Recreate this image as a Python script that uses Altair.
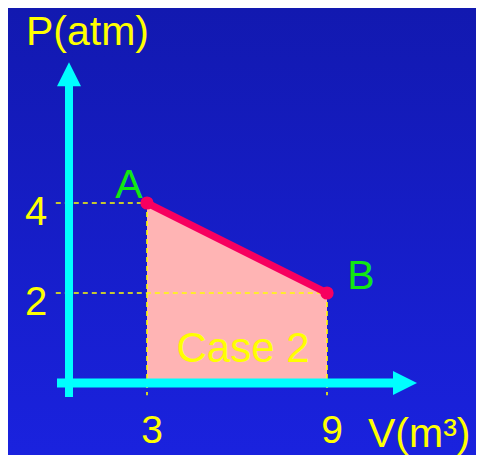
import altair as alt
import pandas as pd

# ---- data ----
state_names = ["A", "B"]
volumes = [3, 9]          # V (m^3)
pressures = [4, 2]        # P (atm)
v_tick_values = [3, 9]
p_tick_values = [4, 2]
area_label = "Case 2"
x_title = "V(m³)"
y_title = "P(atm)"

# ---- geometry of the hand-drawn axes (data units) ----
W, H = 468, 447
V_MIN, V_MAX = -49 / 30, (W - 49) / 30
P_MIN, P_MAX = (375 - H) / 45, 375 / 45
x_axis_start, x_axis_end, x_arrow_at = 0.0, 11.2, 11.6
y_axis_at = 0.4
y_axis_start, y_axis_end, y_arrow_at = -0.31, 6.6, 6.86
guide_left = -0.04
guide_bottom = -0.27

FONT = "Liberation Sans"
YELLOW = "#ffff00"
CYAN = "#00ffff"
GREEN = "#12e812"
RED = "#f7005f"
PINK = "#ffb4b4"

sx = alt.Scale(domain=[V_MIN, V_MAX], nice=False, zero=False)
sy = alt.Scale(domain=[P_MIN, P_MAX], nice=False, zero=False)


def X(f):
    return alt.X(f, type="quantitative", scale=sx, axis=None)


def Y(f):
    return alt.Y(f, type="quantitative", scale=sy, axis=None)


states = pd.DataFrame({"state": state_names, "V": volumes, "P": pressures})
states["V0"] = guide_left
states["P0"] = guide_bottom
states["Pz"] = 0
vt = pd.DataFrame({"V": v_tick_values, "label": [str(v) for v in v_tick_values]})
pt = pd.DataFrame({"P": p_tick_values, "label": [str(p) for p in p_tick_values]})
axes_h = pd.DataFrame({"V": [x_axis_start], "V2": [x_axis_end], "P": [0]})
axes_v = pd.DataFrame({"V": [y_axis_at], "P": [y_axis_start], "P2": [y_axis_end]})
arrow_x = pd.DataFrame({"V": [x_arrow_at], "P": [0]})
arrow_y = pd.DataFrame({"V": [y_axis_at], "P": [y_arrow_at]})

gradient = alt.LinearGradient(
    gradient="linear", x1=0, y1=0, x2=0, y2=1,
    stops=[alt.GradientStop(color="#1219b0", offset=0),
           alt.GradientStop(color="#1a22de", offset=1)],
)

bg = alt.Chart(pd.DataFrame({"a": [0]})).mark_rect(color=gradient).encode(
    x=alt.value(0), x2=alt.value("width"), y=alt.value(0), y2=alt.value("height")
)

area = alt.Chart(states).mark_area(color=PINK, opacity=1).encode(
    x=X("V"), y=Y("P"), y2="Pz:Q"
)

dash_h = alt.Chart(states).mark_rule(color=YELLOW, strokeWidth=1.6, strokeDash=[5, 4]).encode(
    x=X("V0"), x2="V:Q", y=Y("P")
)
dash_v = alt.Chart(states).mark_rule(color=YELLOW, strokeWidth=1.6, strokeDash=[5, 4]).encode(
    x=X("V"), y=Y("P"), y2="P0:Q"
)

ax_h = alt.Chart(axes_h).mark_rule(color=CYAN, strokeWidth=9).encode(
    x=X("V"), x2="V2:Q", y=Y("P")
)
ax_v = alt.Chart(axes_v).mark_rule(color=CYAN, strokeWidth=8).encode(
    x=X("V"), y=Y("P"), y2="P2:Q"
)
arr_x = alt.Chart(arrow_x).mark_point(
    shape="M1,0L-1,-1L-1,1Z", filled=True, color=CYAN, opacity=1, size=576
).encode(x=X("V"), y=Y("P"))
arr_y = alt.Chart(arrow_y).mark_point(
    shape="M0,-1L1,1L-1,1Z", filled=True, color=CYAN, opacity=1, size=576
).encode(x=X("V"), y=Y("P"))

line = alt.Chart(states).mark_line(color=RED, strokeWidth=7).encode(x=X("V"), y=Y("P"))
pts = alt.Chart(states).mark_circle(color=RED, opacity=1, size=175).encode(x=X("V"), y=Y("P"))

lab_a = alt.Chart(states).transform_filter(alt.datum.state == "A").mark_text(
    font=FONT, fontSize=41, color=GREEN, align="center", baseline="alphabetic", dx=-18, dy=-5
).encode(x=X("V"), y=Y("P"), text="state:N")
lab_b = alt.Chart(states).transform_filter(alt.datum.state == "B").mark_text(
    font=FONT, fontSize=41, color=GREEN, align="center", baseline="alphabetic", dx=34, dy=-4
).encode(x=X("V"), y=Y("P"), text="state:N")

v_labels = alt.Chart(vt).mark_text(
    font=FONT, fontSize=39, color=YELLOW, align="center", baseline="alphabetic", dx=5, dy=60
).encode(x=X("V"), y=alt.YDatum(0, scale=sy, axis=None), text="label:N")
p_labels = alt.Chart(pt).mark_text(
    font=FONT, fontSize=40, color=YELLOW, align="center", baseline="alphabetic", dx=-21, dy=22
).encode(x=alt.XDatum(0, scale=sx, axis=None), y=Y("P"), text="label:N")

case_lab = alt.Chart(pd.DataFrame({"t": [area_label], "V": [sum(volumes) / 2], "P": [0]})).mark_text(
    font=FONT, fontSize=42, color=YELLOW, align="center", baseline="alphabetic", dx=6, dy=-21
).encode(x=X("V"), y=Y("P"), text="t:N")

xt = alt.Chart(pd.DataFrame({"t": [x_title], "V": [x_axis_end], "P": [0]})).mark_text(
    font=FONT, fontSize=41, color=YELLOW, align="left", baseline="alphabetic", dx=-25, dy=64
).encode(x=X("V"), y=Y("P"), text="t:N")

yt = alt.Chart(pd.DataFrame({"t": [y_title], "V": [y_axis_at], "P": [y_axis_end]})).mark_text(
    font=FONT, fontSize=41, color=YELLOW, align="left", baseline="alphabetic", dx=-43, dy=-41
).encode(x=X("V"), y=Y("P"), text="t:N")

chart = alt.layer(
    bg, area, dash_h, dash_v, ax_h, ax_v, arr_x, arr_y, line, pts,
    lab_a, lab_b, v_labels, p_labels, case_lab, xt, yt
).properties(
    width=W, height=H, padding=0,
    autosize=alt.AutoSizeParams(type="none"),
    background="#1219b0",
).configure_view(strokeWidth=0).configure_axis(disable=True)

chart.save("out.html", embed_options={"renderer": "svg", "actions": False})
